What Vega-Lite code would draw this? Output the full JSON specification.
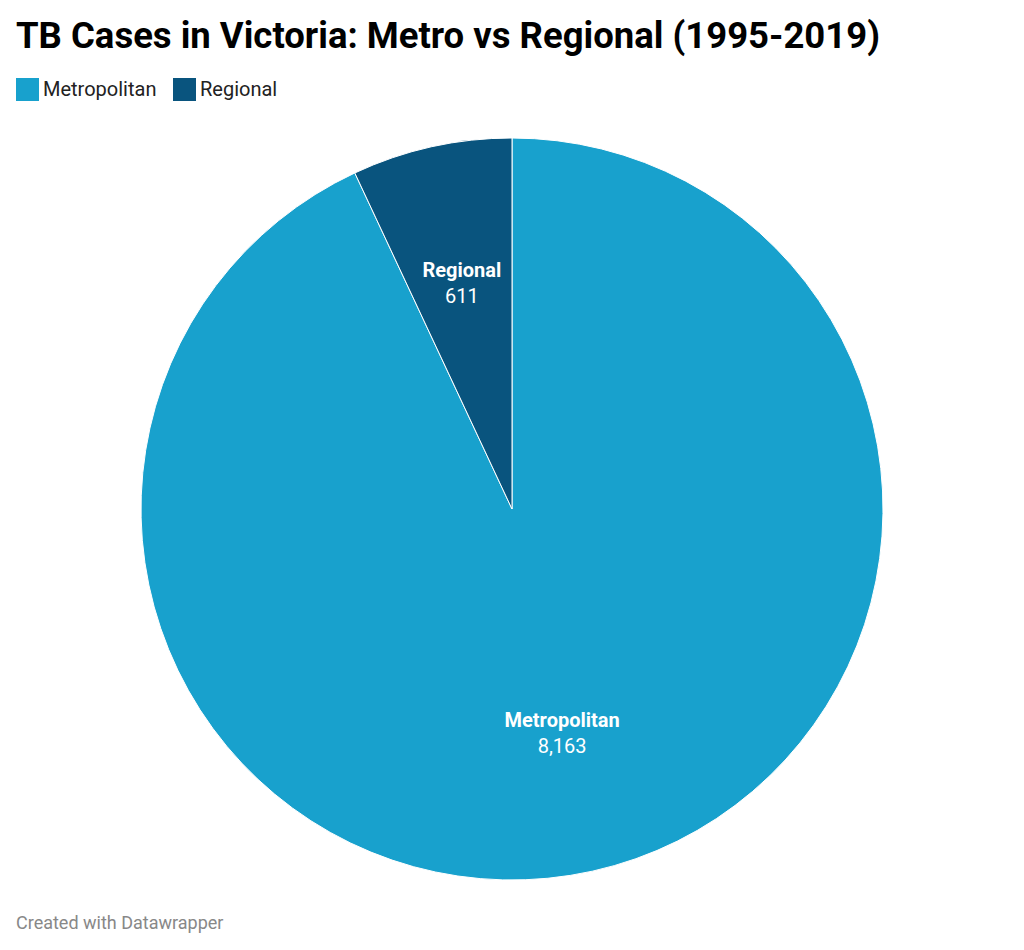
{
  "$schema": "https://vega.github.io/schema/vega-lite/v6.json",
  "background": "white",
  "padding": {"left": 16, "right": 16, "top": 18, "bottom": 0},
  "title": {
    "text": "TB Cases in Victoria: Metro vs Regional (1995-2019)",
    "anchor": "start",
    "font": "Roboto",
    "fontSize": 36.5,
    "fontWeight": "bold",
    "color": "#000000",
    "offset": 23
  },
  "vconcat": [
    {
      "width": 992,
      "height": 756,
      "title": {
        "text": "Created with Datawrapper",
        "orient": "bottom",
        "anchor": "start",
        "font": "Roboto",
        "fontSize": 18,
        "fontWeight": "normal",
        "color": "#888888",
        "offset": 28
      },
      "data": {
        "values": [
          {"category": "Metropolitan", "value": 8163},
          {"category": "Regional", "value": 611}
        ]
      },
      "encoding": {
        "theta": {"field": "value", "type": "quantitative", "stack": true},
        "order": {"field": "category", "sort": "ascending"}
      },
      "layer": [
        {
          "mark": {"type": "arc", "outerRadius": 371, "stroke": "white", "strokeWidth": 1},
          "encoding": {
            "color": {
              "field": "category",
              "type": "nominal",
              "scale": {"domain": ["Metropolitan", "Regional"], "range": ["#18a1cd", "#09547e"]},
              "legend": {
                "title": null,
                "orient": "none",
                "direction": "horizontal",
                "legendX": 0,
                "legendY": -53,
                "symbolType": "square",
                "symbolSize": 529,
                "symbolStrokeWidth": 0,
                "symbolOpacity": 1,
                "labelFont": "Roboto",
                "labelFontSize": 20,
                "labelColor": "#222222",
                "labelOffset": 4,
                "columnPadding": 16
              }
            }
          }
        },
        {
          "mark": {"type": "text", "radius": 231, "dy": -13, "font": "Roboto", "fontSize": 20, "fontWeight": "bold", "color": "white"},
          "encoding": {
            "detail": {"field": "category"},
            "text": {"field": "category", "type": "nominal"}
          }
        },
        {
          "mark": {"type": "text", "radius": 231, "dy": 13, "font": "Roboto", "fontSize": 20, "color": "white"},
          "encoding": {
            "detail": {"field": "category"},
            "text": {"field": "value", "type": "quantitative", "format": ","}
          }
        }
      ]
    }
  ],
  "config": {"view": {"stroke": null}}
}
